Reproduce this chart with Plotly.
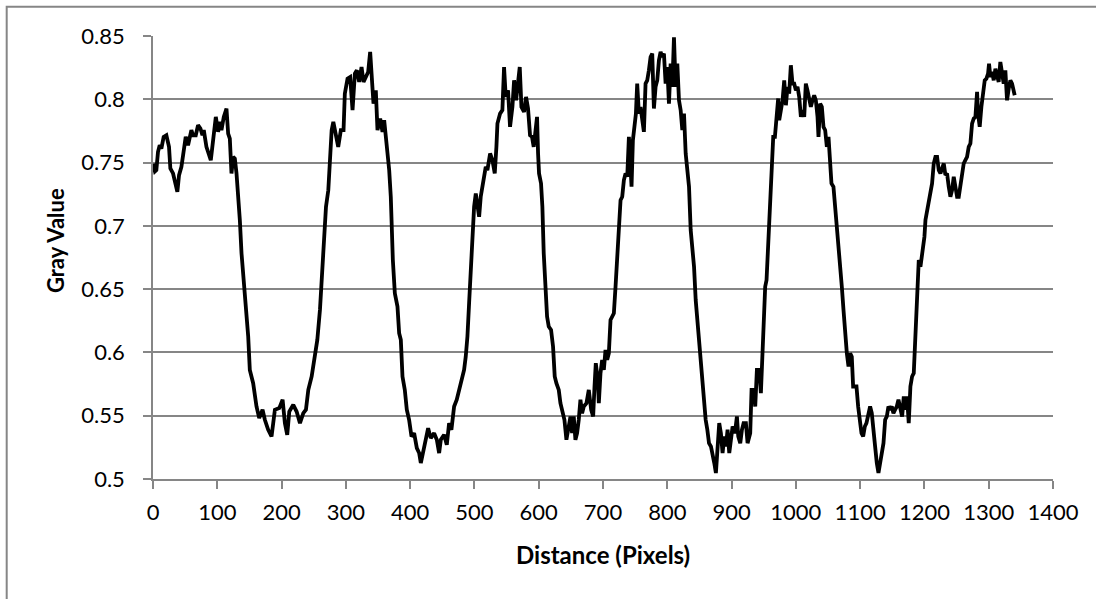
import plotly.graph_objects as go

# ---- data ----
distance_px = [
    0, 3, 5.2, 7.8, 10.4, 13, 16.6, 20.8, 24.9, 27, 31.2, 35.3, 37.9, 40.5, 44.2, 46.8, 50.9, 54.5,
    59.7, 62.3, 66.5, 70.1, 73.8, 76.9, 79, 83.1, 87.3, 89.9, 93.5, 97.7, 101.3, 103.9, 106.5, 110.1,
    114.3, 116.9, 119.5, 122.1, 124.7, 127.3, 129.9, 132.5, 135.1, 137.7, 140.3, 144.4, 148.1, 150.6,
    155.8, 161, 165.2, 170.4, 174, 179.2, 184.4, 189.6, 196.4, 201.6, 205.2, 208.8, 212, 218.2, 223.4,
    228.6, 233.8, 237.9, 241.6, 246.8, 252, 255.6, 259.7, 263.4, 266, 269.1, 272.7, 275.3, 277.9, 280.5,
    286, 288.1, 292.2, 296.4, 298.4, 302.6, 306.7, 310.4, 314, 317.1, 320.7, 324.4, 327.5, 331.1, 334.7,
    337.8, 339.9, 343, 346.6, 349.2, 353.4, 357, 359.6, 363.7, 367.4, 369.9, 371.5, 373.1, 376.2, 380.3,
    382.9, 385.5, 388.1, 391.7, 394.8, 398.4, 402.1, 406.2, 410.4, 414, 416.6, 420.7, 424.4, 428, 432.1,
    437.3, 441.5, 445.1, 447.7, 452.8, 457, 460.6, 464.2, 468.4, 472.5, 476.2, 479.8, 483.9, 486.5,
    489.1, 491.7, 494.3, 496.9, 499.5, 502.1, 504.7, 507.3, 509.8, 512.4, 515, 517.6, 520.2, 524.4, 528,
    531.6, 534.2, 535.8, 539.9, 543.5, 546.1, 548.7, 552.3, 555.4, 559.1, 561.7, 564.8, 567.9, 570.5,
    573.1, 577.2, 580.3, 583.4, 586.5,
    589.6, 592.2, 594.8, 597.4, 599, 600.5, 603.6, 605.7, 607.8, 610.4, 613, 615.6, 619.2, 622.3, 624.9,
    627.5, 631.2, 633.8, 636.4, 640, 643.1, 646.8, 649.4, 651.9, 654.5, 657.1, 659.7, 662.3, 664.9,
    667.5, 670.1, 674.3, 677.9, 681.6, 684.7, 686.8, 688.8, 691.9, 693.5, 696.1, 698.7, 701.3, 703.9,
    706.5, 709.1, 711.7, 714.3, 716.9, 719.5, 722.1, 724.7, 727.3, 729.9, 732.5, 735.1, 737.7, 740.3,
    742.9, 744.4, 746.5, 749.1, 751.2, 753.2, 755.8, 758.4, 761, 763.6, 766.2, 768.8, 771.4, 774, 776.6,
    779.2, 781.8, 784.4, 787, 789.6, 792.2, 794.8, 797.4, 800, 802.6, 805.2, 807.8, 810.4, 813, 815.6,
    818.2, 820.8, 823.4, 826, 828.6, 831.2, 833.8, 836.4, 839, 841.6, 844.2, 846.8, 849.4, 852, 854.5,
    857.1, 859.7, 862.3, 864.9,
    867.9, 870.5, 873.1, 875.6, 878.2, 880.8, 883.4, 886, 888.6, 891.2, 893.8, 896.4, 899, 901.6, 905.2,
    908.3, 910.4, 913.5, 916.1, 918.7, 922.3, 924.9, 929, 931.1, 934.2, 936.8, 939.4, 943, 945.6, 947.2,
    949.7, 952.3, 954.4, 957, 959.6, 962.2, 964.8, 967.4, 969.9, 972.5, 974.1, 976.7, 979.3, 981.9,
    984.5, 987, 989.6, 992.2, 994.8, 997.4, 1000, 1002.6, 1005.2, 1007.8, 1010.4, 1013, 1015.5, 1018.1,
    1020.7, 1023.3, 1025.9, 1028.5, 1031.1, 1033.7, 1035.2, 1037.8, 1040.4, 1043, 1045.6, 1048.2,
    1050.8, 1053.4, 1055.4, 1058.5, 1061.1, 1063.7, 1066.3, 1068.9, 1071.5, 1074.1, 1076.7, 1079.3,
    1081.9, 1084.5, 1087, 1089.1, 1091.7, 1094.3, 1096.9, 1099.5, 1102.1, 1104.7, 1107.3, 1109.8,
    1112.4, 1115.5, 1118.1, 1120.7, 1123.3, 1125.9, 1128.5, 1131.1, 1133.7, 1136.3, 1138.9, 1141.5,
    1144, 1146.6, 1149.2, 1151.8, 1154.4, 1157, 1159.6, 1162.2,
    1165.3, 1167.9, 1170.5, 1173, 1175.6, 1178.2, 1180.8, 1183.4, 1186, 1188.6, 1191.2, 1193.8, 1195.3,
    1197.4, 1200, 1201.6, 1204.1, 1206.7, 1209.3, 1211.9, 1214.5, 1217.1, 1219.7, 1222.3, 1224.9,
    1227.5, 1230.1, 1232.6, 1235.2, 1237.8, 1240.4, 1243, 1245.6, 1248.2, 1250.8, 1253.4, 1256, 1258.5,
    1261.1, 1263.7, 1266.3, 1268.9, 1271.5, 1274.1, 1276.7, 1279.3, 1281.9, 1283.4, 1286, 1288.6,
    1291.2, 1293.8, 1296.4, 1299, 1300.5, 1302.6, 1305.2, 1307.8, 1310.4, 1313, 1315.5, 1318.1, 1320.7,
    1323.3, 1325.9, 1328.5, 1331.1, 1333.7, 1336.3, 1338.9, 1340.4,
]

gray_value = [
    0.749, 0.743, 0.744, 0.7585, 0.7637, 0.7611, 0.7703, 0.7716, 0.7624, 0.7453, 0.7414, 0.7335, 0.7269,
    0.7401, 0.7466, 0.7558, 0.7703, 0.7637, 0.7756, 0.7716, 0.7716, 0.7795, 0.7769, 0.7716, 0.7756,
    0.7624, 0.7558, 0.7519, 0.7677, 0.7861, 0.7743, 0.7821, 0.7756, 0.7861, 0.7927, 0.7729, 0.7690,
    0.7414, 0.7545, 0.7532, 0.7414, 0.7256, 0.7046, 0.6783, 0.6625, 0.6336, 0.6125, 0.5862, 0.5757,
    0.5573, 0.5481, 0.5547, 0.5468, 0.5389, 0.5336, 0.5547, 0.5560, 0.5626, 0.5441, 0.5349, 0.5533,
    0.5586, 0.5533, 0.5441, 0.5520, 0.5547, 0.5704, 0.5810, 0.5994, 0.6099, 0.6336, 0.6651, 0.6940,
    0.7151, 0.7282, 0.7519, 0.7756, 0.7821,
    0.7651, 0.7624, 0.7756, 0.7756, 0.8045, 0.8163, 0.8176, 0.7914, 0.8203, 0.8229, 0.8137, 0.8255,
    0.8137, 0.8176, 0.8216, 0.8374, 0.8203, 0.7966, 0.8071, 0.7756, 0.7848, 0.7743, 0.7835, 0.7624,
    0.7440, 0.7230, 0.6940, 0.6730, 0.6467, 0.6362, 0.6151, 0.6099, 0.5810, 0.5704, 0.5547, 0.5468,
    0.5336, 0.5362, 0.5244, 0.5205, 0.5126, 0.5231, 0.5297, 0.5402, 0.5323, 0.5362, 0.5310, 0.5205,
    0.5310, 0.5349, 0.5270, 0.5441, 0.5389, 0.5573, 0.5626, 0.5704, 0.5770, 0.5862, 0.5967, 0.6125,
    0.6388, 0.6651, 0.6914, 0.7151, 0.7256, 0.7177, 0.7072, 0.7230, 0.7309, 0.7388, 0.7466, 0.7440,
    0.7572, 0.7519, 0.7414, 0.7624, 0.7808, 0.7887, 0.7914, 0.8255, 0.8019, 0.8071, 0.7782, 0.7940,
    0.8150, 0.7992, 0.8176, 0.8255, 0.7940, 0.7900, 0.8019, 0.7927, 0.7716,
    0.7703, 0.7624, 0.7756, 0.7861, 0.7572, 0.7414, 0.7335, 0.7151, 0.6783, 0.6441, 0.6283, 0.6204,
    0.6178, 0.6046, 0.5810, 0.5757, 0.5704, 0.5599, 0.5547, 0.5468, 0.5310, 0.5441, 0.5494, 0.5362,
    0.5494, 0.5310, 0.5362, 0.5468, 0.5626, 0.5520, 0.5573, 0.5599, 0.5704, 0.5547, 0.5494, 0.5731,
    0.5915, 0.5783, 0.5599, 0.5836, 0.5941, 0.5862, 0.6020, 0.5941, 0.5994, 0.6257, 0.6283, 0.6309,
    0.6520, 0.6783, 0.7046, 0.7203, 0.7230, 0.7361, 0.7414, 0.7388, 0.7703, 0.7440, 0.7309, 0.7677,
    0.7782, 0.7887, 0.8124, 0.7887, 0.7940, 0.7835, 0.7743, 0.8124, 0.8150, 0.8229, 0.8334, 0.8361,
    0.7927, 0.8098, 0.8150, 0.8308, 0.8374, 0.8334, 0.8361, 0.8124, 0.8255, 0.7966, 0.8282, 0.8098,
    0.8490, 0.8098, 0.8282, 0.7992, 0.7914, 0.7756, 0.7887, 0.7572, 0.7440, 0.7309, 0.6967, 0.6809,
    0.6677, 0.6414, 0.6257, 0.6151, 0.5941, 0.5783, 0.5599, 0.5468, 0.5389, 0.5283,
    0.5257, 0.5205, 0.5126, 0.5047, 0.5205, 0.5441, 0.5362, 0.5205, 0.5336, 0.5257, 0.5389, 0.5205,
    0.5310, 0.5415, 0.5362, 0.5494, 0.5336, 0.5283, 0.5389, 0.5441, 0.5441, 0.5283, 0.5362, 0.5704,
    0.5704, 0.5573, 0.5862, 0.5862, 0.5678, 0.5915, 0.6257, 0.6520, 0.6572, 0.6888, 0.7046, 0.7440,
    0.7703, 0.7703, 0.7887, 0.8006, 0.7835, 0.7914, 0.7992, 0.8150, 0.7953, 0.8098, 0.8045, 0.8269,
    0.8124, 0.8124, 0.8071, 0.8098, 0.8019, 0.7861, 0.7914, 0.7861, 0.8124, 0.8071, 0.7992, 0.7940,
    0.7992, 0.8032, 0.7992, 0.7861, 0.7703, 0.7966, 0.7940, 0.7782, 0.7756, 0.7624, 0.7703, 0.7440,
    0.7335, 0.7309, 0.7151, 0.7046, 0.6835, 0.6756, 0.6520, 0.6336, 0.6099, 0.5994, 0.5888, 0.5994,
    0.5967, 0.5731, 0.5731, 0.5731, 0.5573, 0.5468, 0.5362, 0.5336, 0.5415, 0.5441, 0.5520, 0.5573,
    0.5520, 0.5415, 0.5257, 0.5126, 0.5047, 0.5126, 0.5231, 0.5283, 0.5468, 0.5494, 0.5573, 0.5547,
    0.5573, 0.5520, 0.5547, 0.5573, 0.5626, 0.5547,
    0.5494, 0.5652, 0.5547, 0.5652, 0.5441, 0.5731, 0.5810, 0.5836, 0.6125, 0.6467, 0.6730, 0.6677,
    0.6730, 0.6783, 0.6914, 0.7046, 0.7125, 0.7177, 0.7256, 0.7335, 0.7493, 0.7545, 0.7545, 0.7440,
    0.7414, 0.7466, 0.7493, 0.7401, 0.7414, 0.7309, 0.7230, 0.7282, 0.7388, 0.7309, 0.7230, 0.7230,
    0.7335, 0.7440, 0.7493, 0.7519, 0.7545, 0.7624, 0.7651, 0.7808, 0.7848, 0.7861, 0.8058, 0.7887,
    0.7782, 0.7940, 0.8071, 0.8150, 0.8163, 0.8203, 0.8282, 0.8176, 0.8216, 0.8150, 0.8242, 0.8190,
    0.8137, 0.8295, 0.8190, 0.8124, 0.8229, 0.7992, 0.8084, 0.8150, 0.8124, 0.8045, 0.8032,
]

y_tick_vals = [0.5, 0.55, 0.6, 0.65, 0.7, 0.75, 0.8, 0.85]
y_tick_text = ["0.5", "0.55", "0.6", "0.65", "0.7", "0.75", "0.8", "0.85"]
x_tick_vals = list(range(0, 1401, 100))
x_title = "Distance (Pixels)"
y_title = "Gray Value"

# ---- layout geometry (pixels) ----
W, H = 1096, 599
L, R, T, B = 153, 43, 36, 120
PW, PH = W - L - R, H - T - B


def px_x(px):
    return (px - L) / PW


def px_y(py):
    return (H - B - py) / PH


FONT = "Lato, 'Open Sans', sans-serif"
GRID = "#868686"

fig = go.Figure()
fig.add_trace(go.Scatter(
    x=distance_px, y=gray_value, mode="lines",
    line=dict(color="#000000", width=3.8), showlegend=False, hoverinfo="skip",
))

fig.update_layout(
    width=W, height=H,
    margin=dict(l=L, r=R, t=T, b=B, pad=0),
    paper_bgcolor="white", plot_bgcolor="white",
    font=dict(family=FONT, size=22, color="black"),
    xaxis=dict(
        range=[0, 1400], tickvals=x_tick_vals, ticks="outside", ticklen=8, tickwidth=1.5,
        tickcolor=GRID, showline=True, linecolor=GRID, linewidth=1.5, showgrid=False,
        zeroline=False, tickfont=dict(size=22), ticklabelstandoff=5,
    ),
    yaxis=dict(
        range=[0.5, 0.85], tickvals=y_tick_vals, ticktext=y_tick_text, ticks="outside",
        ticklen=8, tickwidth=1.5, tickcolor=GRID, showline=True, linecolor=GRID, linewidth=1.5,
        showgrid=True, gridcolor=GRID, gridwidth=1.5, zeroline=False,
        tickfont=dict(size=22), ticklabelstandoff=14,
    ),
    annotations=[
        dict(text=f"<b>{x_title}</b>", xref="paper", yref="paper", x=0.5, y=px_y(554),
             xanchor="center", yanchor="middle", showarrow=False, font=dict(size=24)),
        dict(text=f"<b>{y_title}</b>", xref="paper", yref="paper", x=px_x(55), y=px_y(241),
             xanchor="center", yanchor="middle", showarrow=False, textangle=-90,
             font=dict(size=22)),
    ],
    shapes=[
        dict(type="rect", xref="paper", yref="paper", x0=px_x(6.7), x1=px_x(1110),
             y0=px_y(620), y1=px_y(6.7), line=dict(color=GRID, width=2), layer="below"),
    ],
)

fig.write_html("out.html", config={"displayModeBar": False},
               post_script="document.body.style.margin='0';")
